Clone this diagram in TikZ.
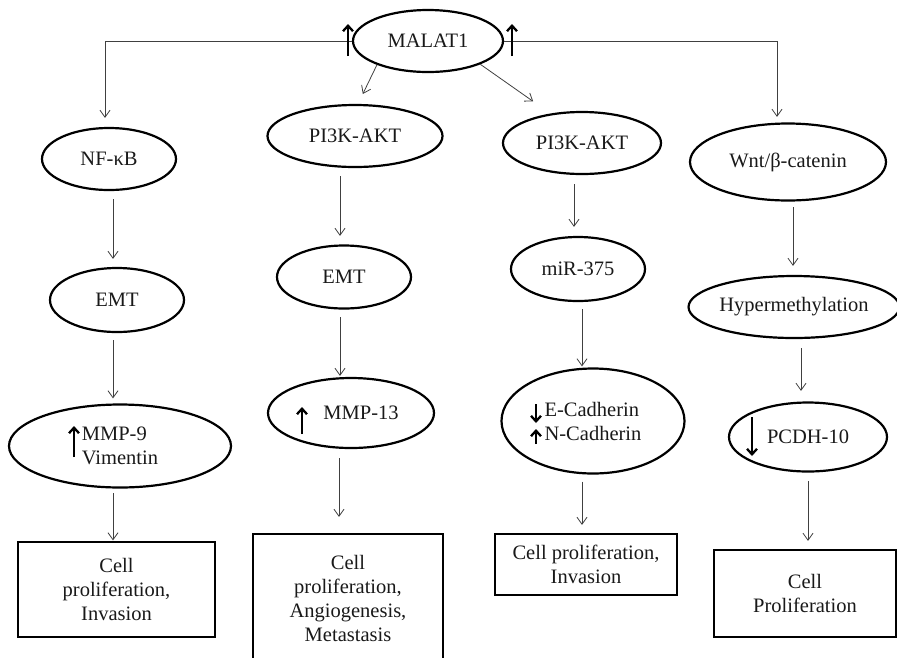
\documentclass[tikz,border=0pt]{standalone}
\usepackage{fontspec}
\setmainfont{Liberation Serif}
\usetikzlibrary{arrows.meta,shapes.geometric}
\begin{document}
\begin{tikzpicture}[x=1pt,y=-1pt,
  every node/.style={font=\fontsize{20.5pt}{24pt}\selectfont, inner sep=0pt, text=black!90},
  conn/.style={draw=black!75, line width=0.8pt, -{Straight Barb[length=7pt,width=10pt,line width=0.8pt]}},
  oval/.style={ellipse, draw=black, line width=2.2pt},
  box/.style={rectangle, draw=black, line width=2.2pt, align=center},
  updown/.style={draw=black, line width=2.3pt, -{Straight Barb[length=5.5pt,width=10pt]}}]
\useasboundingbox (0,0) rectangle (897,657);

% top
\node[oval, minimum width=150pt, minimum height=62pt] (malat) at (428,41) {MALAT1};

% column A
\node[oval, minimum width=134pt, minimum height=62pt] (nfkb) at (109,159) {NF-κB};
\node[oval, minimum width=134pt, minimum height=64pt] (emtA) at (117,300) {EMT};
\node[oval, minimum width=222pt, minimum height=83pt, align=left] (mmp9) at (120,446) {MMP-9\\Vimentin};
\node[box, minimum width=197pt, minimum height=95pt] (boxA) at (116.5,589.5) {Cell\\proliferation,\\Invasion};

% column B
\node[oval, minimum width=175pt, minimum height=62pt] (pi3kA) at (355,136) {PI3K-AKT};
\node[oval, minimum width=134pt, minimum height=63pt] (emtB) at (344,277) {EMT};
\node[oval, minimum width=166pt, minimum height=70pt] (mmp13) at (351,413) {\hspace*{20pt}MMP-13};
\node[box, minimum width=190pt, minimum height=128pt] (boxB) at (348,598) {Cell\\proliferation,\\Angiogenesis,\\Metastasis};

% column C
\node[oval, minimum width=158pt, minimum height=62pt] (pi3kB) at (582,143) {PI3K-AKT};
\node[oval, minimum width=134pt, minimum height=64pt] (mir) at (578,269) {miR-375};
\node[oval, minimum width=183pt, minimum height=105pt, align=left] (cad) at (593,421) {E-Cadherin\\N-Cadherin};
\node[box, minimum width=182pt, minimum height=61pt] (boxC) at (586,564.5) {Cell proliferation,\\Invasion};

% column D
\node[oval, minimum width=196pt, minimum height=77pt] (wnt) at (788,162) {Wnt/β-catenin};
\node[oval, minimum width=208pt, minimum height=62pt] (hyper) at (794,307) {Hypermethylation};
\node[oval, minimum width=158pt, minimum height=69pt] (pcdh) at (808,437) {PCDH-10};
\node[box, minimum width=182pt, minimum height=87pt] (boxD) at (805,593.5) {Cell\\Proliferation};

% connectors from MALAT1
\draw[conn, shorten >=9pt] (malat.west) -| ([xshift=-4pt]nfkb.north);
\draw[conn, shorten >=5.5pt] (malat.east) -| ([xshift=-11pt]wnt.north);
\draw[conn, shorten >=11pt] (malat.205) -- ([xshift=3pt]pi3kA.north);
\draw[conn, shorten >=21pt] (malat.-24) -- (pi3kB.137);

% column A connectors
\draw[conn, shorten <=8pt, shorten >=8pt] ([xshift=4pt]nfkb.south) -- ([xshift=4pt]nfkb.south |- emtA.north);
\draw[conn, shorten <=7pt, shorten >=5pt] ([xshift=-4pt]emtA.south) -- ([xshift=-4pt]emtA.south |- mmp9.north);
\draw[conn, shorten <=4.5pt, shorten >=0.5pt] ([xshift=-7pt]mmp9.south) -- ([xshift=-7pt]mmp9.south |- boxA.north);

% column B connectors
\draw[conn, shorten <=8pt, shorten >=8.5pt] ([xshift=-15pt]pi3kA.south) -- ([xshift=-15pt]pi3kA.south |- emtB.north);
\draw[conn, shorten <=7.5pt, shorten >=1pt] ([xshift=-4pt]emtB.south) -- ([xshift=-4pt]emtB.south |- mmp13.north);
\draw[conn, shorten <=9pt, shorten >=16pt] ([xshift=-12pt]mmp13.south) -- ([xshift=-12pt]mmp13.south |- boxB.north);

% column C connectors
\draw[conn, shorten <=9pt, shorten >=9pt] ([xshift=-8pt]pi3kB.south) -- ([xshift=-8pt]pi3kB.south |- mir.north);
\draw[conn, shorten <=7pt, shorten >=1pt] ([xshift=4pt]mir.south) -- ([xshift=4pt]mir.south |- cad.north);
\draw[conn, shorten <=7pt, shorten >=8pt] ([xshift=-11pt]cad.south) -- ([xshift=-11pt]cad.south |- boxC.north);

% column D connectors
\draw[conn, shorten <=5.5pt, shorten >=9pt] ([xshift=5pt]wnt.south) -- ([xshift=5pt]wnt.south |- hyper.north);
\draw[conn, shorten <=9pt, shorten >=10.5pt] ([xshift=7pt]hyper.south) -- ([xshift=7pt]hyper.south |- pcdh.north);
\draw[conn, shorten <=8.5pt, shorten >=8pt] (pcdh.south) -- (pcdh.south |- boxD.north);

% up / down markers
\draw[updown] (348,56) -- (348,24);
\draw[updown] (512,56) -- (512,24);
\draw[updown] (74,457) -- (74,426);
\draw[updown] (302,434) -- (302,407);
\draw[updown] (536,404) -- (536,423);
\draw[updown] (536,444) -- (536,429);
\draw[updown] (752,417) -- (752,456);
\end{tikzpicture}
\end{document}
